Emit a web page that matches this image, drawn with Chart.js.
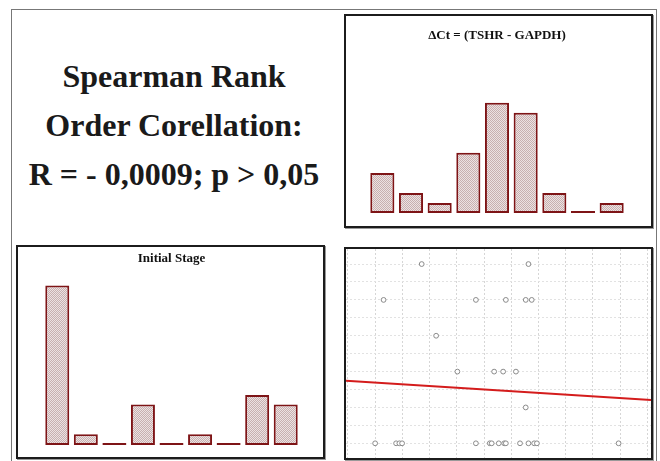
<!DOCTYPE html>
<html>
<head>
<meta charset="utf-8">
<script src="https://cdn.jsdelivr.net/npm/chart.js@4.4.0/dist/chart.umd.min.js"></script>
<style>
  body { margin: 0; background: #fff; }
  #wrap { position: relative; width: 660px; height: 461px; overflow: hidden; }
  .frame { position: absolute; left: 11px; top: 9px; width: 646px; height: 452px; border: 1.5px solid #777; border-bottom: none; box-sizing: border-box; }
  .panel { position: absolute; border: 2px solid #1c1c1c; box-sizing: border-box; background: #fff; box-shadow: 1px 1px 0 #999; }
  .panel canvas { display: block; }
  #stats { position: absolute; left: 14px; top: 52px; width: 320px; text-align: center;
           font-family: "Liberation Serif", "Times New Roman", serif; font-weight: bold; font-size: 32px; line-height: 49px; color: #1a1a1a; }
</style>
</head>
<body>
<div id="wrap">
  <div class="frame"></div>
  <div id="stats">Spearman Rank<br>Order Corellation:<br>R = - 0,0009; p &gt; 0,05</div>
  <div class="panel" style="left:344px; top:14px; width:309px; height:214px;"><canvas id="dct" width="305" height="210"></canvas></div>
  <div class="panel" style="left:16px; top:245px; width:309px; height:214px;"><canvas id="init" width="305" height="210"></canvas></div>
  <div class="panel" style="left:344px; top:247px; width:309px; height:213px;"><canvas id="scat" width="305" height="209"></canvas></div>
</div>
<script>
// histogram bins (counts)
const binLabels = ['1', '2', '3', '4', '5', '6', '7', '8', '9'];
const dctCounts = [4, 2, 1, 6, 11, 10, 2, 0, 1];
const initCounts = [15, 1, 0, 3.8, 0, 1, 0, 4.7, 3.8];

// scatter points (dCt vs stage), read row by row
const ptX = [1.71, 5.63,
             0.31, 3.70, 4.80, 5.53, 5.75,
             2.24,
             3.02, 4.37, 4.70, 5.17,
             5.53,
             0, 0.77, 0.89, 0.99, 3.70, 4.21, 4.28, 4.54, 4.74, 4.80, 5.32, 5.63, 5.84, 5.94, 8.94];
const ptY = [5, 5,
             4, 4, 4, 4, 4,
             3,
             2, 2, 2, 2,
             1,
             0, 0, 0, 0, 0, 0, 0, 0, 0, 0, 0, 0, 0, 0, 0];
// regression line ends
const fitX = [-1.07, 10.13];
const fitY = [1.745, 1.207];

// stippled fill like the original bars
const stipple = (function () {
  const c = document.createElement('canvas');
  c.width = 2; c.height = 2;
  const g = c.getContext('2d');
  g.fillStyle = '#ece2e2'; g.fillRect(0, 0, 2, 2);
  g.fillStyle = '#c8b0b0'; g.fillRect(0, 0, 1, 1); g.fillRect(1, 1, 1, 1);
  return g.createPattern(c, 'repeat');
})();

const titleFont = { family: '"Liberation Serif", "Times New Roman", serif', weight: 'bold', size: 13 };

function histo(id, counts, title, yMax, pad, titlePad) {
  new Chart(document.getElementById(id), {
    type: 'bar',
    data: {
      labels: binLabels,
      datasets: [{
        data: counts,
        backgroundColor: stipple,
        borderColor: '#7e1416',
        borderWidth: 2,
        borderSkipped: false,
        minBarLength: 2,
        barPercentage: 1,
        categoryPercentage: 0.84
      }]
    },
    options: {
      responsive: false,
      animation: false,
      layout: { padding: pad },
      plugins: {
        legend: { display: false },
        tooltip: { enabled: false },
        title: { display: true, text: title, color: '#111', font: titleFont, padding: titlePad }
      },
      scales: {
        x: { display: false },
        y: { display: false, min: 0, max: yMax }
      }
    }
  });
}

histo('dct', dctCounts, 'ΔCt = (TSHR - GAPDH)', 16, { left: 22, right: 25, bottom: 13 }, { top: 12, bottom: 9 });
histo('init', initCounts, 'Initial Stage', 16.5, { left: 25, right: 23, bottom: 12 }, { top: 4, bottom: 3 });

new Chart(document.getElementById('scat'), {
  type: 'scatter',
  data: {
    datasets: [
      {
        data: ptX.map((x, i) => ({ x: x, y: ptY[i] })),
        pointRadius: 2.4,
        pointBorderWidth: 1,
        pointBorderColor: '#8a8a8a',
        pointBackgroundColor: '#fff'
      },
      {
        // fitted line
        data: fitX.map((x, i) => ({ x: x, y: fitY[i] })),
        showLine: true,
        borderColor: '#d41c1c',
        borderWidth: 2,
        pointRadius: 0,
        clip: false,
        fill: false
      }
    ]
  },
  options: {
    responsive: false,
    animation: false,
    layout: { padding: 0, autoPadding: false },
    plugins: { legend: { display: false }, tooltip: { enabled: false } },
    scales: {
      x: {
        type: 'linear', min: -1.07, max: 10.13,
        ticks: { display: false, stepSize: 1, includeBounds: false },
        grid: { color: '#d6d6d6', drawTicks: false },
        border: { display: false, dash: [2, 2] }
      },
      y: {
        type: 'linear', min: -0.41, max: 5.42,
        ticks: { display: false, stepSize: 0.5, includeBounds: false },
        grid: { color: '#e2e2e2', drawTicks: false },
        border: { display: false, dash: [2, 2] }
      }
    }
  }
});
</script>
</body>
</html>
